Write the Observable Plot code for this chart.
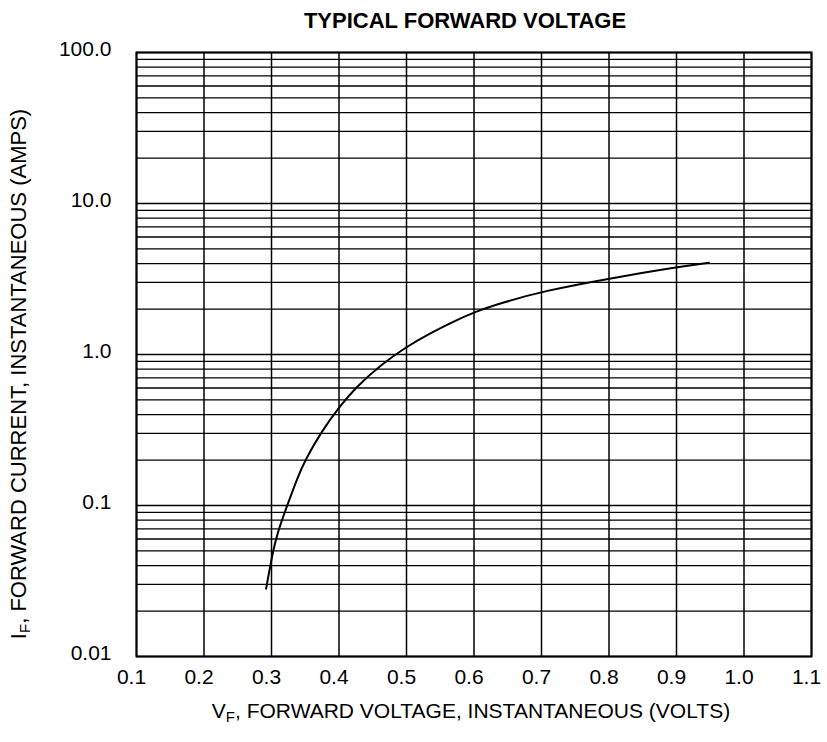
<!DOCTYPE html>
<html>
<head>
<meta charset="utf-8">
<script src="https://cdn.jsdelivr.net/npm/d3@7"></script>
<script src="https://cdn.jsdelivr.net/npm/@observablehq/plot@0.6"></script>
<style>
  html, body { margin: 0; padding: 0; background: #fff; }
</style>
</head>
<body>
<div id="chart"></div>
<script>
// Curve values (forward voltage in V, current in A)
const vf = [0.292, 0.300, 0.308, 0.326, 0.338, 0.350, 0.375, 0.401, 0.424, 0.464, 0.499, 0.533, 0.573, 0.600, 0.644, 0.703, 0.797, 0.901, 0.948];
const iF = [0.0281, 0.0444, 0.065, 0.108, 0.151, 0.201, 0.314, 0.452, 0.602, 0.867, 1.117, 1.371, 1.68, 1.91, 2.22, 2.63, 3.17, 3.79, 4.05];

// Axis ticks and labels
const xTicks = [0.1, 0.2, 0.3, 0.4, 0.5, 0.6, 0.7, 0.8, 0.9, 1.0, 1.1];
const xTickLabels = ["0.1", "0.2", "0.3", "0.4", "0.5", "0.6", "0.7", "0.8", "0.9", "1.0", "1.1"];
const yTicks = [0.01, 0.1, 1, 10, 100];
const yTickLabels = ["0.01", "0.1", "1.0", "10.0", "100.0"];
const yGrid = [
  0.01, 0.02, 0.03, 0.04, 0.05, 0.06, 0.07, 0.08, 0.09,
  0.1, 0.2, 0.3, 0.4, 0.5, 0.6, 0.7, 0.8, 0.9,
  1, 2, 3, 4, 5, 6, 7, 8, 9,
  10, 20, 30, 40, 50, 60, 70, 80, 90, 100
];

const titleText = "TYPICAL FORWARD VOLTAGE";

const data = vf.map((v, i) => ({v, i: iF[i]}));
const xLab = xTicks.map((v, k) => ({v, label: xTickLabels[k]}));
const yLab = yTicks.map((v, k) => ({v, label: yTickLabels[k]}));

const font = "'Liberation Sans', Arial, Helvetica, sans-serif";

const chart = Plot.plot({
  width: 827,
  height: 742,
  marginLeft: 136,
  marginRight: 16,
  marginTop: 52,
  marginBottom: 86,
  style: {fontFamily: font, fontSize: "21px", color: "black", background: "white", overflow: "visible"},
  x: {domain: [0.1, 1.1], axis: null},
  y: {type: "log", domain: [0.01, 100], axis: null},
  marks: [
    Plot.ruleY(yGrid, {stroke: "black", strokeWidth: 1.3}),
    Plot.ruleX(xTicks, {stroke: "black", strokeWidth: 1.5}),
    Plot.frame({stroke: "black", strokeWidth: 2}),
    Plot.line(data, {x: "v", y: "i", curve: "basis", stroke: "black", strokeWidth: 2}),
    Plot.text(xLab, {x: "v", text: "label", frameAnchor: "bottom", lineAnchor: "middle", dy: 21, dx: -5, fontSize: 21, fill: "black"}),
    Plot.text(yLab, {y: "v", text: "label", frameAnchor: "left", textAnchor: "end", lineAnchor: "middle", dx: -25, dy: -3, fontSize: 21, fill: "black"}),
    Plot.text([titleText], {text: d => d, frameAnchor: "top", lineAnchor: "middle", dy: -32, dx: -9, fontWeight: "bold", fontSize: 22, fill: "black"})
  ]
});

document.getElementById("chart").appendChild(chart);

const svg = d3.select(chart);
// X axis title with subscript
const xl = svg.append("text")
  .attr("x", 471).attr("y", 712)
  .attr("text-anchor", "middle")
  .attr("dominant-baseline", "middle")
  .attr("font-size", 21)
  .attr("fill", "black");
xl.append("tspan").text("V");
xl.append("tspan").attr("font-size", 15).attr("dy", 6).text("F");
xl.append("tspan").attr("dy", -6).text(", FORWARD VOLTAGE, INSTANTANEOUS (VOLTS)");

// Y axis title with subscript
const yl = svg.append("text")
  .attr("transform", "translate(20,374) rotate(-90)")
  .attr("text-anchor", "middle")
  .attr("dominant-baseline", "middle")
  .attr("font-size", 22)
  .attr("fill", "black");
yl.append("tspan").text("I");
yl.append("tspan").attr("font-size", 15).attr("dy", 6).text("F");
yl.append("tspan").attr("dy", -6).text(", FORWARD CURRENT, INSTANTANEOUS (AMPS)");
</script>
</body>
</html>
